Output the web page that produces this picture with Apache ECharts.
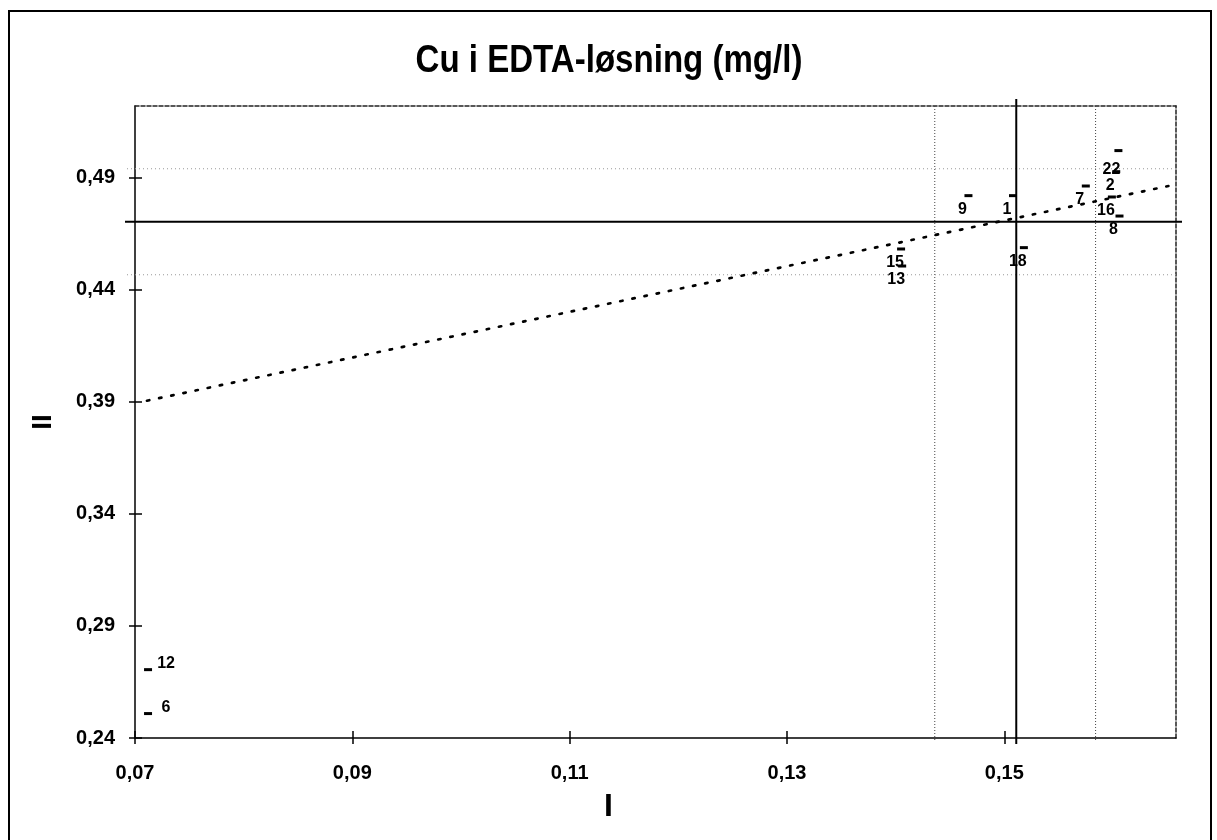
<!DOCTYPE html>
<html>
<head>
<meta charset="utf-8">
<script src="https://cdn.jsdelivr.net/npm/echarts@6/dist/echarts.min.js"></script>
<style>
html,body{margin:0;padding:0;background:#fff;}
#chart{width:1217px;height:840px;}
</style>
</head>
<body>
<div id="chart"></div>
<script>
// ---- data ----
const labIds   = ['12', '6', '15', '13', '9', '1', '18', '7', '16', '2', '22', '8'];
const valuesI  = [0.0712, 0.0712, 0.1405, 0.1406, 0.1467, 0.1508, 0.1518, 0.1575, 0.1599, 0.1603, 0.1605, 0.1606];
const valuesII = [0.2705, 0.2509, 0.4582, 0.4506, 0.4820, 0.4820, 0.4588, 0.4863, 0.4814, 0.4927, 0.5021, 0.4729];

const xTicks = [0.07, 0.09, 0.11, 0.13, 0.15];
const xTickLabels = ['0,07', '0,09', '0,11', '0,13', '0,15'];
const yTicks = [0.24, 0.29, 0.34, 0.39, 0.44, 0.49];
const yTickLabels = ['0,24', '0,29', '0,34', '0,39', '0,44', '0,49'];

const xRange = [0.07, 0.1658];
const yRange = [0.24, 0.522];

const medianI = 0.1511;
const medianII = 0.4703;
const limitsI = [0.1436, 0.1584];
const limitsII = [0.4467, 0.4940];

const trendI = [0.0711, 0.1651];
const trendII = [0.3905, 0.4863];

// labs whose label sits to the right of the marker
const rightLabelled = ['12', '6'];

// ---- chart ----
const FONT = "'Liberation Sans', Arial, sans-serif";

const refDefs = [
  {dir: 'v', v: limitsI[0], color: '#444', width: 1, dash: [1, 2], ext: [0, 4]},
  {dir: 'v', v: limitsI[1], color: '#444', width: 1, dash: [1, 2], ext: [0, 4]},
  {dir: 'h', v: limitsII[0], color: '#999', width: 1, dash: [1, 3], ext: [8, 0]},
  {dir: 'h', v: limitsII[1], color: '#999', width: 1, dash: [1, 3], ext: [8, 0]},
  {dir: 'v', v: medianI, color: '#000', width: 2, dash: null, ext: [7, 6]},
  {dir: 'h', v: medianII, color: '#000', width: 2, dash: null, ext: [10, 6]}
];

const scatterData = labIds.map((id, i) => ({
  name: id,
  value: [valuesI[i], valuesII[i]],
  label: {offset: rightLabelled.indexOf(id) >= 0 ? [18, -6] : (id === '22' ? [-7, 19] : [-6, 14])}
}));

function fmt(ticks, labels) {
  return function (v) {
    for (let i = 0; i < ticks.length; i++) {
      if (Math.abs(ticks[i] - v) < 1e-9) return labels[i];
    }
    return '';
  };
}

const chart = echarts.init(document.getElementById('chart'), null, {renderer: 'canvas'});

const option = {
  animation: false,
  backgroundColor: '#fff',
  title: [
    {
      text: 'I',
      left: 'center', top: 786,
      textStyle: {fontSize: 32, fontWeight: 'bold', color: '#000', fontFamily: FONT}
    }
  ],
  graphic: [
    {type: 'rect', shape: {x: 9, y: 11, width: 1202, height: 850},
     style: {fill: 'none', stroke: '#000', lineWidth: 2}, silent: true, z: -1},
    {type: 'text', x: 609, y: 62, scaleX: 0.87, silent: true,
     style: {text: 'Cu i EDTA-løsning (mg/l)', fill: '#000',
       font: "bold 38px 'Liberation Sans', Arial, sans-serif",
       textAlign: 'center', textVerticalAlign: 'middle'}}
  ],
  grid: {left: 135, right: 41, top: 106, bottom: 102},
  xAxis: [
    {
      type: 'value', min: xRange[0], max: xRange[1], position: 'bottom',
      axisLine: {show: true, onZero: false, lineStyle: {color: '#000', width: 1.5}},
      axisTick: {show: true, inside: false, length: 6, customValues: xTicks, lineStyle: {color: '#000', width: 1.5}},
      axisLabel: {customValues: xTicks, formatter: fmt(xTicks, xTickLabels), margin: 25,
        fontSize: 20, fontWeight: 'bold', color: '#000', fontFamily: FONT},
      splitLine: {show: false}
    },
    {
      type: 'value', min: xRange[0], max: xRange[1], position: 'bottom',
      axisLine: {show: false, onZero: false},
      axisTick: {show: true, inside: true, length: 7, customValues: xTicks, lineStyle: {color: '#000', width: 1.5}},
      axisLabel: {show: false},
      splitLine: {show: false}
    },
    {
      type: 'value', min: xRange[0], max: xRange[1], position: 'top',
      axisLine: {show: true, onZero: false, lineStyle: {color: '#222', width: 1.5, type: [4, 2]}},
      axisTick: {show: false}, axisLabel: {show: false}, splitLine: {show: false}
    }
  ],
  yAxis: [
    {
      type: 'value', min: yRange[0], max: yRange[1], position: 'left',
      name: 'II', nameLocation: 'middle', nameRotate: 90, nameGap: 78,
      nameTextStyle: {fontSize: 28, fontWeight: 'bold', color: '#000', fontFamily: FONT},
      axisLine: {show: true, onZero: false, lineStyle: {color: '#000', width: 1.5}},
      axisTick: {show: true, inside: false, length: 6, customValues: yTicks, lineStyle: {color: '#000', width: 1.5}},
      axisLabel: {customValues: yTicks, formatter: fmt(yTicks, yTickLabels), margin: 20,
        fontSize: 20, fontWeight: 'bold', color: '#000', fontFamily: FONT},
      splitLine: {show: false}
    },
    {
      type: 'value', min: yRange[0], max: yRange[1], position: 'left',
      axisLine: {show: false, onZero: false},
      axisTick: {show: true, inside: true, length: 7, customValues: yTicks, lineStyle: {color: '#000', width: 1.5}},
      axisLabel: {show: false}, splitLine: {show: false}
    },
    {
      type: 'value', min: yRange[0], max: yRange[1], position: 'right',
      axisLine: {show: true, onZero: false, lineStyle: {color: '#222', width: 1.5, type: [4, 2]}},
      axisTick: {show: false}, axisLabel: {show: false}, splitLine: {show: false}
    }
  ],
  series: [
    {
      type: 'custom',
      xAxisIndex: 0, yAxisIndex: 0,
      clip: false,
      silent: true,
      z: 2,
      data: refDefs.map(d => d.dir === 'v' ? [d.v, yRange[0]] : [xRange[0], d.v]),
      renderItem: function (params, api) {
        const d = refDefs[params.dataIndex];
        let shape;
        if (d.dir === 'v') {
          const p1 = api.coord([d.v, yRange[1]]);
          const p2 = api.coord([d.v, yRange[0]]);
          shape = {x1: p1[0], y1: p1[1] - d.ext[0], x2: p2[0], y2: p2[1] + d.ext[1]};
        } else {
          const p1 = api.coord([xRange[0], d.v]);
          const p2 = api.coord([xRange[1], d.v]);
          shape = {x1: p1[0] - d.ext[0], y1: p1[1], x2: p2[0] + d.ext[1], y2: p2[1]};
        }
        return {
          type: 'line', shape: shape,
          style: {stroke: d.color, lineWidth: d.width, lineDash: d.dash || null}
        };
      }
    },
    {
      type: 'line',
      xAxisIndex: 0, yAxisIndex: 0,
      data: [[trendI[0], trendII[0]], [trendI[1], trendII[1]]],
      symbol: 'none',
      silent: true,
      z: 3,
      lineStyle: {color: '#000', width: 2.7, type: [2.4, 10], cap: 'round'}
    },
    {
      type: 'scatter',
      xAxisIndex: 0, yAxisIndex: 0,
      data: scatterData,
      symbol: 'rect',
      symbolSize: [8, 3],
      itemStyle: {color: '#000', opacity: 1},
      z: 4,
      label: {
        show: true, position: 'inside', formatter: '{b}',
        fontSize: 16, fontWeight: 'bold', color: '#000', fontFamily: FONT,
        textBorderWidth: 0, textBorderColor: 'transparent', opacity: 1
      }
    }
  ]
};

chart.setOption(option);
</script>
</body>
</html>
